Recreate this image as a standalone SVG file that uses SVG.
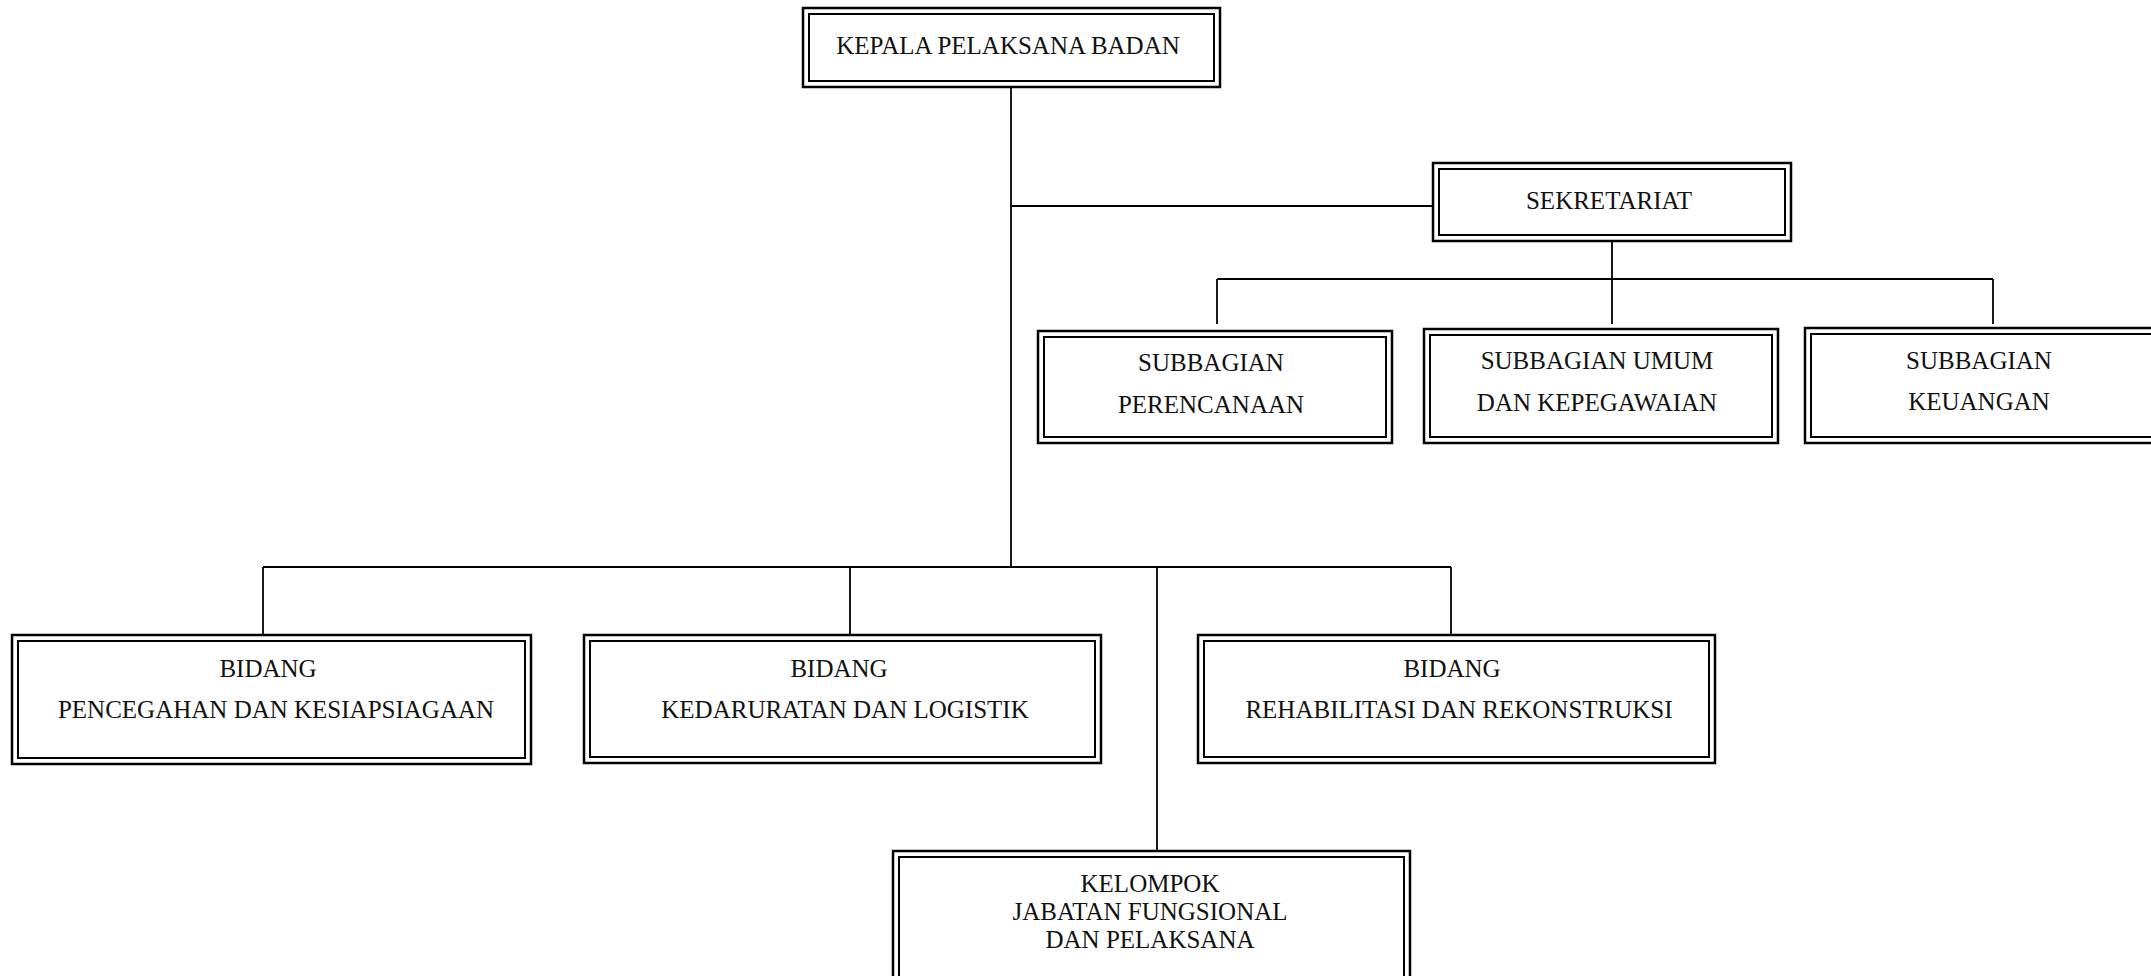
<svg xmlns="http://www.w3.org/2000/svg" width="2151" height="976" viewBox="0 0 2151 976">
<style>
.o{fill:#fff;stroke:#000;stroke-width:2.5}
.i{fill:none;stroke:#000;stroke-width:2}
.c line{stroke:#000;stroke-width:1.8}
text{font-family:"Liberation Serif","Times New Roman",serif;font-size:25px;fill:#111;text-anchor:middle}
</style>
<rect width="2151" height="976" fill="#fff"/>
<g class="c" id="connectors">
<line x1="1011" y1="87" x2="1011" y2="567"/>
<line x1="1011" y1="206" x2="1433" y2="206"/>
<line x1="1612" y1="241" x2="1612" y2="324"/>
<line x1="1217" y1="279" x2="1993" y2="279"/>
<line x1="1217" y1="279" x2="1217" y2="324"/>
<line x1="1993" y1="279" x2="1993" y2="324"/>
<line x1="263" y1="567" x2="1451" y2="567"/>
<line x1="263" y1="567" x2="263" y2="635"/>
<line x1="850" y1="567" x2="850" y2="635"/>
<line x1="1157" y1="567" x2="1157" y2="851"/>
<line x1="1451" y1="567" x2="1451" y2="635"/>
</g>
<g id="kepala">
<rect class="o" x="803" y="8" width="417" height="79"/>
<rect class="i" x="809" y="14" width="405" height="67"/>
<text x="1008" y="54">KEPALA PELAKSANA BADAN</text>
</g>
<g id="sekretariat">
<rect class="o" x="1433" y="163" width="358" height="78"/>
<rect class="i" x="1439" y="169" width="346" height="66"/>
<text x="1609" y="209">SEKRETARIAT</text>
</g>
<g id="perencanaan">
<rect class="o" x="1038" y="331" width="354" height="112"/>
<rect class="i" x="1044" y="337" width="342" height="100"/>
<text x="1211" y="371">SUBBAGIAN</text>
<text x="1211" y="413">PERENCANAAN</text>
</g>
<g id="umum">
<rect class="o" x="1424" y="329" width="354" height="114"/>
<rect class="i" x="1430" y="335" width="342" height="102"/>
<text x="1597" y="369">SUBBAGIAN UMUM</text>
<text x="1597" y="411">DAN KEPEGAWAIAN</text>
</g>
<g id="keuangan">
<rect class="o" x="1805" y="328" width="355" height="115"/>
<rect class="i" x="1811" y="334" width="343" height="103"/>
<text x="1979" y="369">SUBBAGIAN</text>
<text x="1979" y="410">KEUANGAN</text>
</g>
<g id="pencegahan">
<rect class="o" x="12" y="635" width="519" height="129"/>
<rect class="i" x="18" y="641" width="507" height="117"/>
<text x="268" y="677">BIDANG</text>
<text x="276" y="718">PENCEGAHAN DAN KESIAPSIAGAAN</text>
</g>
<g id="kedaruratan">
<rect class="o" x="584" y="635" width="517" height="128"/>
<rect class="i" x="590" y="641" width="505" height="116"/>
<text x="839" y="677">BIDANG</text>
<text x="845" y="718">KEDARURATAN DAN LOGISTIK</text>
</g>
<g id="rehabilitasi">
<rect class="o" x="1198" y="635" width="517" height="128"/>
<rect class="i" x="1204" y="641" width="505" height="116"/>
<text x="1452" y="677">BIDANG</text>
<text x="1459" y="718">REHABILITASI DAN REKONSTRUKSI</text>
</g>
<g id="kelompok">
<rect class="o" x="893" y="851" width="517" height="140"/>
<rect class="i" x="899" y="857" width="505" height="128"/>
<text x="1150" y="892">KELOMPOK</text>
<text x="1150" y="920">JABATAN FUNGSIONAL</text>
<text x="1150" y="948">DAN PELAKSANA</text>
</g>
</svg>
